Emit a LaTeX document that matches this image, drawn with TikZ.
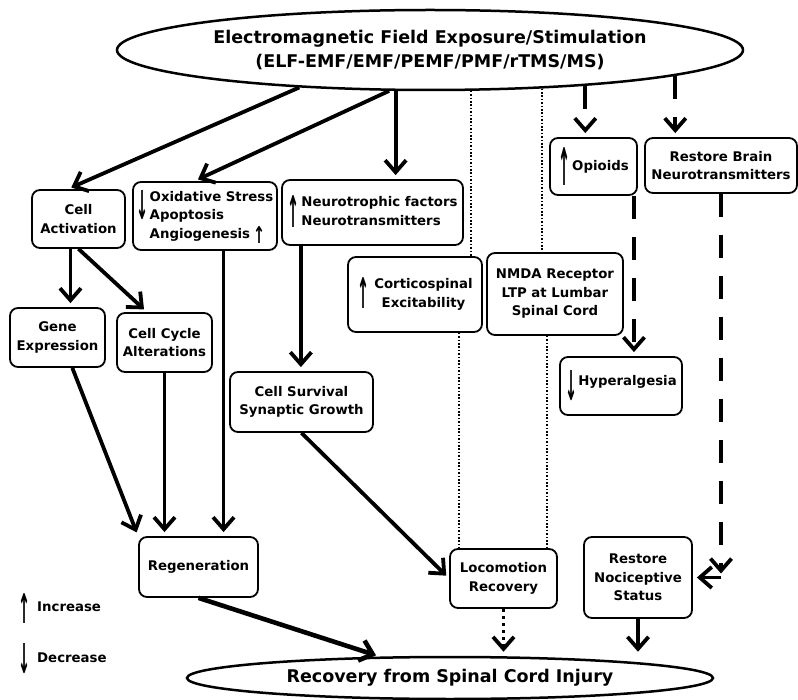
\documentclass[tikz,border=0pt]{standalone}
\usepackage{fontspec}
\usepackage{graphicx}
\setmainfont{DejaVu Sans}
\usetikzlibrary{shapes.geometric,arrows.meta}

\newcommand\uparr[1]{$\vcenter{\hbox{\resizebox{12pt}{#1}{\bfseries ↑}}}$}
\newcommand\downarr[1]{$\vcenter{\hbox{\resizebox{12pt}{#1}{\bfseries ↓}}}$}

\begin{document}
\begin{tikzpicture}[x=1pt,y=-1pt,
		myellipse/.style={ellipse,draw=black,line width=2.5pt,inner sep=0pt,align=center,font=\fontsize{17.5}{24}\selectfont\bfseries},
		mybox/.style={rectangle,rounded corners=8pt,draw=black,line width=1.8pt,inner sep=2pt,align=center,font=\fontsize{13.3}{18.5}\selectfont\bfseries},
		legendtxt/.style={inner sep=0pt,anchor=west,font=\fontsize{13.3}{18.5}\selectfont\bfseries},
		myline/.style={line width=3.8pt,shorten >=4pt,-{Straight Barb[length=12pt,width=21pt]}},
		mydash/.style={myline,dash pattern=on 23pt off 18pt},
		mydot/.style={line width=1.6pt,dash pattern=on 1.6pt off 1.8pt},
		mydotarrow/.style={myline,dash pattern=on 3.5pt off 3.5pt}]
		\useasboundingbox (0,0) rectangle (798,700);
		% source and target
		\node(top)[myellipse,minimum width=626,minimum height=80] at (430,50)
		{Electromagnetic Field Exposure/Stimulation\\(ELF-EMF/EMF/PEMF/PMF/rTMS/MS)};
		\node(bot)[myellipse,minimum width=526,minimum height=42] at (450,678) {Recovery from Spinal Cord Injury};
		% first row
		\node(act)[mybox,minimum width=93,minimum height=58] at (78.5,219) {Cell\\Activation};
		\node(oxi)[mybox,minimum width=144,minimum height=68] at (205,216)
		{\begin{tabular}{@{}c@{\hspace{1pt}}l@{}}\smash{\raisebox{-7pt}{\downarr{29pt}}}&Oxidative Stress\\&Apoptosis\\&Angiogenesis\hspace{3pt}\uparr{17pt}\end{tabular}};
		\node(neuro)[mybox,minimum width=181,minimum height=65] at (372.5,212.5)
		{\begin{tabular}{@{}c@{\hspace{2pt}}l@{}}\smash{\raisebox{-8pt}{\uparr{32pt}}}&Neurotrophic factors\\&Neurotransmitters\end{tabular}};
		\node(opi)[mybox,minimum width=87,minimum height=57] at (593.5,166.5) {\uparr{38pt}\hspace{2pt}Opioids};
		\node(brain)[mybox,minimum width=152,minimum height=55] at (721,165.5) {Restore Brain\\Neurotransmitters};
		% second row
		\node(cortico)[mybox,minimum width=134,minimum height=75] at (415,294.5)
		{\begin{tabular}{@{}c@{\hspace{5pt}}c@{}}\smash{\raisebox{-8pt}{\uparr{31pt}}}&Corticospinal\\&Excitability\end{tabular}};
		\node(nmda)[mybox,minimum width=136,minimum height=82] at (555,294) {NMDA Receptor\\LTP at Lumbar\\Spinal Cord};
		\node(gene)[mybox,minimum width=95,minimum height=59] at (57.5,337.5) {Gene\\Expression};
		\node(cycle)[mybox,minimum width=95,minimum height=59] at (164.5,342.5) {Cell Cycle\\Alterations};
		\node(hyper)[mybox,minimum width=122,minimum height=58] at (621,386) {\raisebox{-4pt}{\downarr{30pt}}\hspace{1pt}Hyperalgesia};
		\node(surv)[mybox,minimum width=143,minimum height=60] at (301.5,402) {Cell Survival\\Synaptic Growth};
		% last row
		\node(regen)[mybox,minimum width=119,minimum height=60] at (198.5,567) {Regeneration};
		\node(loco)[mybox,minimum width=107,minimum height=59] at (503.5,578.5) {Locomotion\\Recovery};
		\node(noci)[mybox,minimum width=108,minimum height=81] at (638,577.5) {Restore\\Nociceptive\\Status};
		% legend
		\node(inc)[legendtxt] at (18,608) {\uparr{30pt}\hspace{7pt}Increase};
		\node(dec)[legendtxt] at (18,659) {\downarr{30pt}\hspace{7pt}Decrease};
		\coordinate (bend) at (brain.south |- noci.east);
		% connectors
		\path [myline] (top.196) edge node {} (act.110);
		\path [myline] (top.225) edge node {} (oxi.107);
		\path [myline] (top.230) edge node {} (top.230 |- neuro.north);
		\path [mydash] (top.347.5) edge node {} (top.347.5 |- opi.north);
		\path [mydash] (top.354.5) edge node {} (top.354.5 |- brain.north);
		\path [mydot] (top.315) edge node {} (top.315 |- cortico.north);
		\path [mydot] (top.341) edge node {} (top.341 |- nmda.north);
		\path [mydot] (cortico.319) edge node {} (cortico.319 |- loco.north);
		\path [mydot] (nmda.259) edge node {} (nmda.259 |- loco.north);
		\path [myline] (act.255) edge node {} (act.255 |- gene.north);
		\path [myline] (act.south) edge node {} (cycle.120);
		\path [myline] (gene.296) edge node {} (regen.north west);
		\path [myline] (cycle.south) edge node {} (cycle.south |- regen.north);
		\path [myline] (oxi.298) edge node {} (oxi.298 |- regen.north);
		\path [myline] (neuro.205) edge node {} (neuro.205 |- surv.north);
		\path [myline] (surv.south) edge node {} (loco.west);
		\path [mydash] (opi.324) edge node {} (opi.324 |- hyper.north);
		\path [mydash] (brain.south) edge node {} (bend);
		\path [myline] (bend) edge node {} (noci.east);
		\path [myline,line width=4.6pt] (regen.south) edge node {} (bot.163);
		\path [mydotarrow] (loco.south) edge node {} (loco.south |- bot.north);
		\path [myline] (noci.south) edge node {} (noci.south |- bot.north);
	\end{tikzpicture}
\end{document}
